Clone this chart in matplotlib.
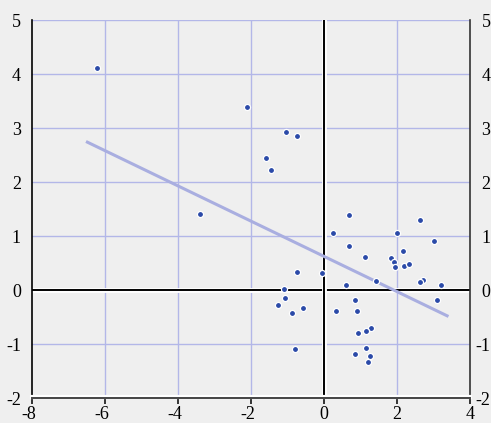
import numpy as np
import matplotlib
matplotlib.use('Agg')
import matplotlib.pyplot as plt
import matplotlib.patheffects as pe
import matplotlib.transforms as mtransforms

plt.rcParams['font.family'] = ['Liberation Serif', 'DejaVu Serif']

# scatter values
xs = [-6.23, -2.12, -3.40, -1.04, -0.75, -1.60, -1.44, 0.69, 2.64, 0.24,
      2.01, 3.02, 0.68, 2.16, 1.13, 1.84, 1.92, 1.94, 2.19, 2.32,
      -0.73, -0.05, 1.43, 2.70, 2.63, 3.21, 0.60, -1.09, -1.08, 3.10,
      0.86, -1.25, -0.57, 0.32, 0.91, -0.88, 1.28, 1.14, 0.94, -0.79,
      1.15, 0.85, 1.25, 1.20]
ys = [4.12, 3.38, 1.40, 2.92, 2.86, 2.45, 2.23, 1.39, 1.30, 1.06,
      1.05, 0.91, 0.81, 0.72, 0.61, 0.59, 0.51, 0.42, 0.44, 0.48,
      0.33, 0.31, 0.17, 0.19, 0.15, 0.10, 0.09, 0.01, -0.14, -0.18,
      -0.18, -0.27, -0.33, -0.39, -0.38, -0.43, -0.70, -0.75, -0.80, -1.09,
      -1.07, -1.19, -1.22, -1.34]

# trend line ends
trend_x = [-6.52, 3.41]
trend_y = [2.75, -0.49]

x_ticks = [-8, -6, -4, -2, 0, 2, 4]
y_ticks = [-2, -1, 0, 1, 2, 3, 4, 5]

bg = '#efefef'
grid_col = '#b3b7e8'

fig = plt.figure(figsize=(4.91, 4.23), dpi=100, facecolor=bg)
ax = fig.add_axes([32/491, 1 - 398/423, 438/491, 378/423])
ax.set_facecolor(bg)
ax.set_xlim(-8, 4)
ax.set_ylim(-2, 5)

for gx in [-6, -4, -2, 2]:
	ax.axvline(gx, color=grid_col, lw=1.0, zorder=1)
for gy in [-1, 1, 2, 3, 4, 5]:
	ax.axhline(gy, color=grid_col, lw=1.0, zorder=1)

halo = [pe.Stroke(linewidth=3.5, foreground='white'), pe.Normal()]
ax.axhline(0, color='black', lw=1.4, zorder=2, path_effects=halo)
ax.axvline(0, color='black', lw=1.4, zorder=2, path_effects=halo)

ax.plot(trend_x, trend_y, color='#a9aee0', lw=2.2, solid_capstyle='butt', zorder=3)
ax.plot(xs, ys, 'o', ms=4.4, mfc='#2b4aa8', mec='white', mew=0.9, zorder=4)

ax.spines['top'].set_visible(False)
ax.spines['left'].set_color('black')
ax.spines['left'].set_linewidth(1.2)
ax.spines['right'].set_color('#333333')
ax.spines['right'].set_linewidth(1.2)
ax.spines['bottom'].set_color('#444444')
ax.spines['bottom'].set_linewidth(1.4)
ax.spines['bottom'].set_path_effects([pe.Stroke(linewidth=3.0, foreground='white', offset=(0, 0.8)), pe.Normal()])

ax.set_xticks(x_ticks)
ax.set_xticklabels([str(v) for v in x_ticks])
ax.set_yticks(y_ticks)
ax.set_yticklabels([str(v) for v in y_ticks])
ax.tick_params(axis='x', direction='out', length=4, width=1.4, color='#333333',
	labelsize=13, pad=1.5)
ax.tick_params(axis='y', length=0, labelsize=13, pad=8, labelright=True, right=False)

# digits line up on the tick, the minus sign hangs out to the left
for v, t in zip(x_ticks, ax.xaxis.get_major_ticks()):
	if v < 0:
		sh = mtransforms.ScaledTranslation(-3/100, 0, fig.dpi_scale_trans)
		t.label1.set_transform(t.label1.get_transform() + sh)
for v, t in zip(y_ticks, ax.yaxis.get_major_ticks()):
	dx = -6 if v < 0 else 0.5
	sh = mtransforms.ScaledTranslation(dx/100, 0, fig.dpi_scale_trans)
	t.label2.set_transform(t.label2.get_transform() + sh)

fig.savefig('out.png', dpi=100, facecolor=bg)
